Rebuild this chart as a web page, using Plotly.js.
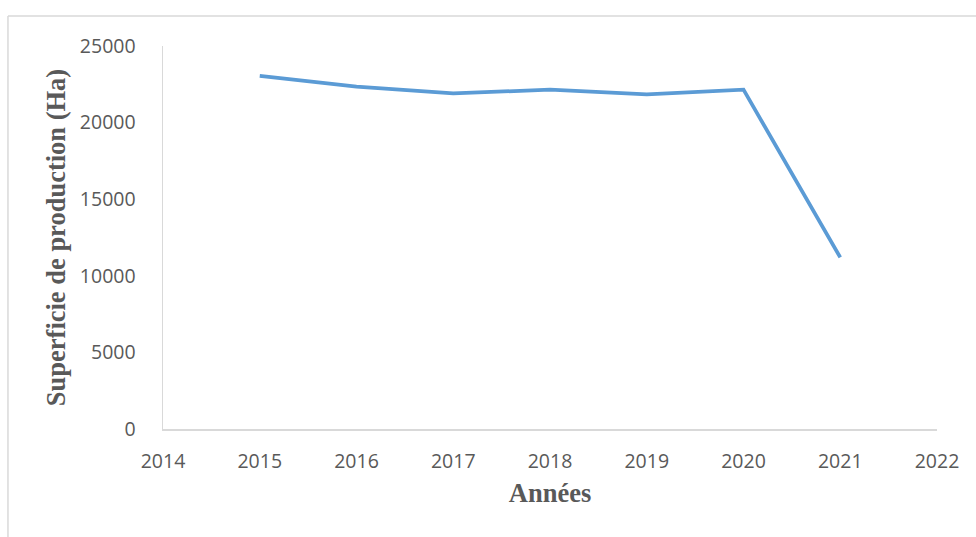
<!DOCTYPE html>
<html>
<head>
<meta charset="utf-8">
<script src="https://cdn.plot.ly/plotly-3.0.1.min.js"></script>
<style>html,body{margin:0;padding:0;background:#fff;}#chart{width:976px;height:537px;}</style>
</head>
<body>
<div id="chart"></div>
<script>
const years = [2015, 2016, 2017, 2018, 2019, 2020, 2021];
const superficie = [23050, 22350, 21900, 22150, 21850, 22150, 11200];
const xTicks = [2014, 2015, 2016, 2017, 2018, 2019, 2020, 2021, 2022];
const yTicks = [0, 5000, 10000, 15000, 20000, 25000];

const tickFont = {family: '"Open Sans", sans-serif', size: 19.5, color: '#595959'};
const titleFont = {family: '"Liberation Serif", "Times New Roman", serif', size: 26.5, color: '#595959', weight: 'bold'};

const trace = {
  x: years, y: superficie, type: 'scatter', mode: 'lines',
  line: {color: '#5b9bd5', width: 3.75},
  hoverinfo: 'x+y'
};

const layout = {
  width: 976, height: 537,
  margin: {l: 163, r: 39, t: 46, b: 108},
  paper_bgcolor: '#ffffff', plot_bgcolor: '#ffffff',
  showlegend: false,
  xaxis: {
    range: [2014, 2022], tickvals: xTicks, ticktext: xTicks.map(String),
    showgrid: false, zeroline: false, showline: true, linecolor: '#d9d9d9', linewidth: 1.5,
    ticks: '', tickfont: tickFont, ticklabelstandoff: 14,
    title: {text: '<b>Années</b>', font: titleFont, standoff: 10}
  },
  yaxis: {
    range: [0, 25000], tickvals: yTicks, ticktext: yTicks.map(String),
    showgrid: false, zeroline: false, showline: true, linecolor: '#d9d9d9', linewidth: 1.5,
    ticks: '', tickfont: tickFont, ticklabelstandoff: 22,
    title: {text: '<b>Superficie de production (Ha)</b>', font: titleFont, standoff: 6}
  },
  shapes: [
    {type: 'line', xref: 'paper', yref: 'paper', x0: -0.2003, x1: -0.2003, y0: -0.3, y1: 1.0783,
     line: {color: '#d9d9d9', width: 1.5}},
    {type: 'line', xref: 'paper', yref: 'paper', x0: -0.2003, x1: 1.06, y0: 1.0783, y1: 1.0783,
     line: {color: '#d9d9d9', width: 1.5}}
  ]
};

Plotly.newPlot('chart', [trace], layout, {displayModeBar: false, staticPlot: true});
</script>
</body>
</html>
